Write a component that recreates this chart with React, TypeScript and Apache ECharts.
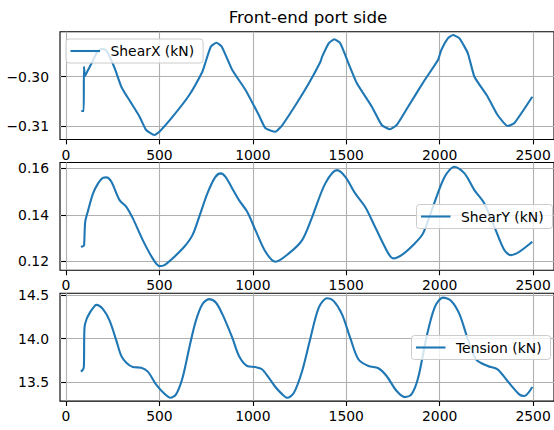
import React, { useEffect, useRef } from "react";
import * as echarts from "echarts";

const TITLE = "Front-end port side";
const X_TICKS = [0, 500, 1000, 1500, 2000, 2500];

const SHEARX_T = [82, 95, 96, 102, 118, 137, 163, 190, 213, 234, 261, 296, 314, 350, 394, 429, 473, 500, 571, 660, 730, 745, 775, 805, 834, 890, 961, 1032, 1068, 1121, 1158, 1229, 1300, 1362, 1371, 1406, 1436, 1468, 1512, 1557, 1637, 1690, 1734, 1770, 1831, 1920, 1991, 2009, 2044, 2071, 2106, 2151, 2186, 2257, 2310, 2363, 2399, 2496];
const SHEARX_V = [-0.30696, -0.30696, -0.29797, -0.29986, -0.29864, -0.29728, -0.29525, -0.29438, -0.29458, -0.29594, -0.2983, -0.30203, -0.30325, -0.3054, -0.30811, -0.31081, -0.31183, -0.31116, -0.30811, -0.30371, -0.29899, -0.29728, -0.29391, -0.2931, -0.29391, -0.29864, -0.3027, -0.30777, -0.31047, -0.31116, -0.3098, -0.30574, -0.30134, -0.29696, -0.29594, -0.29323, -0.29241, -0.29323, -0.29728, -0.30134, -0.30609, -0.3098, -0.31067, -0.3098, -0.30609, -0.30067, -0.29661, -0.29458, -0.29221, -0.29154, -0.29221, -0.29525, -0.3, -0.30406, -0.30777, -0.31, -0.30945, -0.30406];
const SHEARX_TICKS = [-0.31, -0.3];

const SHEARY_T = [80, 92, 97, 103, 119, 145, 172, 198, 216, 243, 287, 323, 358, 411, 464, 500, 527, 571, 633, 677, 713, 757, 798, 828, 854, 890, 926, 970, 1014, 1068, 1121, 1193, 1264, 1318, 1388, 1451, 1495, 1548, 1601, 1654, 1725, 1752, 1796, 1867, 1911, 1964, 2027, 2080, 2133, 2186, 2239, 2293, 2346, 2381, 2426, 2496];
const SHEARY_V = [0.12624, 0.12654, 0.12697, 0.13699, 0.14202, 0.1492, 0.15351, 0.15591, 0.15609, 0.15419, 0.14632, 0.14344, 0.13845, 0.12912, 0.12125, 0.11794, 0.11837, 0.12125, 0.12624, 0.13127, 0.13914, 0.1492, 0.15609, 0.15781, 0.15634, 0.15135, 0.14632, 0.14129, 0.13342, 0.12409, 0.11978, 0.1234, 0.12912, 0.13914, 0.15351, 0.15923, 0.15634, 0.1492, 0.14344, 0.13484, 0.1234, 0.12125, 0.12267, 0.1277, 0.132, 0.14344, 0.15634, 0.16065, 0.15781, 0.15062, 0.1449, 0.13484, 0.12482, 0.12267, 0.12409, 0.12839];
const SHEARY_TICKS = [0.12, 0.14, 0.16];

const TENSION_T = [80, 92, 96, 99, 110, 128, 154, 163, 198, 234, 270, 296, 323, 358, 403, 438, 482, 527, 559, 589, 624, 660, 695, 730, 766, 802, 837, 890, 926, 970, 1014, 1049, 1085, 1121, 1158, 1184, 1220, 1264, 1309, 1353, 1397, 1432, 1477, 1521, 1565, 1619, 1672, 1716, 1770, 1814, 1849, 1885, 1929, 1973, 2018, 2062, 2106, 2151, 2195, 2257, 2310, 2363, 2426, 2452, 2496];
const TENSION_V = [13.622, 13.649, 13.687, 14.126, 14.222, 14.298, 14.375, 14.386, 14.337, 14.203, 13.974, 13.802, 13.725, 13.675, 13.667, 13.622, 13.477, 13.369, 13.323, 13.362, 13.553, 13.897, 14.203, 14.394, 14.452, 14.413, 14.28, 14.011, 13.802, 13.687, 13.675, 13.649, 13.553, 13.446, 13.362, 13.323, 13.381, 13.63, 14.011, 14.356, 14.463, 14.432, 14.28, 14.011, 13.764, 13.687, 13.661, 13.572, 13.4, 13.331, 13.362, 13.553, 14.011, 14.356, 14.47, 14.432, 14.28, 13.993, 13.764, 13.687, 13.649, 13.515, 13.362, 13.343, 13.446];
const TENSION_TICKS = [13.5, 14.0, 14.5];

const NAMES = ["ShearX (kN)", "ShearY (kN)", "Tension (kN)"];

const FONT = "DejaVu Sans";
const FS = 13.9;
const BLUE = "#1f77b4";

function zip(t: number[], v: number[]) {
  return t.map((x, i) => [x, v[i]]);
}

export default function App() {
  const ref = useRef<HTMLDivElement>(null);
  useEffect(() => {
    if (!ref.current) return;
    const chart = echarts.init(ref.current, null, { renderer: "svg" });
    const tops = [31.7, 162.5, 293.3];
    const H = 107.8;
    const yRanges = [
      [-0.31274, -0.29087],
      [0.11613, 0.16249],
      [13.285, 14.519],
    ];
    const yTicks = [SHEARX_TICKS, SHEARY_TICKS, TENSION_TICKS];
    const yFmt = [
      (v: number) => (v < 0 ? "\u2212" : "") + Math.abs(v).toFixed(2),
      (v: number) => v.toFixed(2),
      (v: number) => v.toFixed(1),
    ];
    const data = [zip(SHEARX_T, SHEARX_V), zip(SHEARY_T, SHEARY_V), zip(TENSION_T, TENSION_V)];
    const legendPos = [
      { left: 66, top: 39 },
      { left: 416.5, top: 204.5 },
      { left: 411.5, top: 335.5 },
    ];
    const grid = tops.map((t) => ({
      left: 60,
      top: t,
      width: 497,
      height: H,
      show: true,
      backgroundColor: "#fff",
      borderColor: "#000",
      borderWidth: 1.1,
    }));
    const xAxis = tops.map((_, i) => ({
      type: "value",
      gridIndex: i,
      min: -32,
      max: 2612,
      axisLine: { show: false },
      axisTick: { show: true, length: 4.9, lineStyle: { color: "#000", width: 1.1 }, customValues: X_TICKS },
      axisLabel: { show: true, customValues: X_TICKS, margin: 8, color: "#000", fontFamily: FONT, fontSize: FS, formatter: (v: number) => String(v) },
      splitLine: { show: true, lineStyle: { color: "#b0b0b0", width: 1.1 } },
    }));
    const yAxis = tops.map((_, i) => ({
      type: "value",
      gridIndex: i,
      min: yRanges[i][0],
      max: yRanges[i][1],
      axisLine: { show: false },
      axisTick: { show: true, length: 4.9, lineStyle: { color: "#000", width: 1.1 }, customValues: yTicks[i] },
      axisLabel: { show: true, customValues: yTicks[i], margin: 11, color: "#000", fontFamily: FONT, fontSize: FS, formatter: yFmt[i] },
      splitLine: { show: true, lineStyle: { color: "#b0b0b0", width: 1.1 } },
    }));
    const series = data.map((d, i) => ({
      type: "line",
      name: NAMES[i],
      xAxisIndex: i,
      yAxisIndex: i,
      data: d,
      symbol: "none",
      smooth: i === 0 ? 0.15 : 0.3,
      lineStyle: { color: BLUE, width: 2.1 },
      itemStyle: { color: BLUE },
    }));
    const legend = NAMES.map((n, i) => ({
      data: [n],
      left: legendPos[i].left,
      top: legendPos[i].top,
      orient: "horizontal",
      icon: "rect",
      itemWidth: 29.5,
      itemHeight: 2.1,
      padding: [5, 9, 5, 4.5],
      backgroundColor: "rgba(255,255,255,0.8)",
      borderColor: "#cccccc",
      borderWidth: 1,
      borderRadius: 3,
      selectedMode: false,
      textStyle: { color: "#000", fontFamily: FONT, fontSize: FS, padding: [0, 0, 0, 5.5] },
    }));
    chart.setOption({
      animation: false,
      backgroundColor: "#fff",
      grid,
      xAxis,
      yAxis,
      series,
      legend,
      graphic: [
        {
          type: "text",
          x: 308,
          y: 16.5,
          style: { text: TITLE, fontFamily: FONT, fontSize: 16.7, fill: "#000", textAlign: "center", textVerticalAlign: "middle" },
        },
      ],
    });
    return () => chart.dispose();
  }, []);
  return <div ref={ref} style={{ position: "fixed", left: 0, top: 0, width: 554, height: 430 }} />;
}
